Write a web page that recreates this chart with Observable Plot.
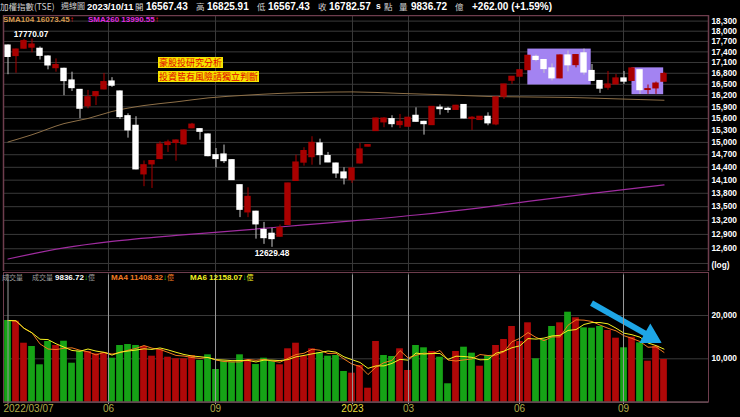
<!DOCTYPE html>
<html><head><meta charset="utf-8">
<script src="https://cdn.jsdelivr.net/npm/d3@7"></script>
<script src="https://cdn.jsdelivr.net/npm/@observablehq/plot@0.6"></script>
<style>
html,body{margin:0;padding:0;background:#000;}
#wrap{position:relative;width:740px;height:417px;overflow:hidden;background:#000;}
.t{position:absolute;white-space:nowrap;line-height:1;}
.n{font-family:"Liberation Sans",Arial,sans-serif;font-weight:bold;color:#fff;}
.c{font-family:"Noto Sans CJK TC",sans-serif;color:#d0d0d0;}
#price,#vol{position:absolute;left:0;}
#price{top:15px;} #vol{top:272px;}
.note{position:absolute;background:#f4e400;color:#e00000;font-family:"Noto Sans CJK TC",sans-serif;font-size:9px;line-height:11px;height:11px;padding:0 1px;white-space:nowrap;overflow:hidden;}
</style></head><body><div id="wrap">
<div id="price"></div><div id="vol"></div>

<span class="t c" style="left:0;top:2px;font-size:8.5px">加權指數(TSE)</span>
<span class="t c" style="left:61px;top:2px;font-size:8px">週線圖</span>
<span class="t n" style="left:87px;top:2px;font-size:9.4px">2023/10/11</span>
<span class="t c" style="left:135px;top:2px;font-size:8.5px">開</span>
<span class="t n" style="left:146px;top:2px;font-size:10px">16567.43</span>
<span class="t c" style="left:196px;top:2px;font-size:8.5px">高</span>
<span class="t n" style="left:207px;top:2px;font-size:10px">16825.91</span>
<span class="t c" style="left:257px;top:2px;font-size:8.5px">低</span>
<span class="t n" style="left:268px;top:2px;font-size:10px">16567.43</span>
<span class="t c" style="left:318px;top:2px;font-size:8.5px">收</span>
<span class="t n" style="left:329px;top:2px;font-size:10px">16782.57</span>
<span class="t n" style="left:376px;top:2px;font-size:8.5px">s</span>
<span class="t c" style="left:384px;top:2px;font-size:8.5px">點</span>
<span class="t c" style="left:399px;top:2px;font-size:8.5px">量</span>
<span class="t n" style="left:411px;top:2px;font-size:10px">9836.72</span>
<span class="t c" style="left:455px;top:2px;font-size:8.5px">億</span>
<span class="t n" style="left:472px;top:2px;font-size:10px">+262.00 (+1.59%)</span>

<span class="t n" style="left:3px;top:16px;font-size:8px;color:#d79a4e">SMA104 16073.45<span style="color:#f01010">↑</span></span>
<span class="t n" style="left:88px;top:16px;font-size:8px;color:#e02ce0">SMA260 13990.55<span style="color:#f01010">↑</span></span>

<span class="t c" style="left:2px;top:274px;font-size:7px;color:#9a9a9a">成交量</span>
<span class="t c" style="left:32px;top:274px;font-size:7px;color:#9a9a9a">成交量</span>
<span class="t n" style="left:55px;top:274px;font-size:8px">9836.72<span style="color:#20d020">↓</span><span class="c" style="font-weight:normal;color:#9a9a9a;font-size:7px">億</span></span>
<span class="t n" style="left:111px;top:274px;font-size:8px;color:#f07a20">MA4 11408.32<span style="color:#20d020">↓</span><span class="c" style="font-weight:normal;color:#f07a20;font-size:7px">億</span></span>
<span class="t n" style="left:190px;top:274px;font-size:8px;color:#f0f020">MA6 12158.07<span style="color:#20d020">↓</span><span class="c" style="font-weight:normal;color:#f0f020;font-size:7px">億</span></span>

<div class="note" style="left:158px;top:57px">豪股投研究分析</div>
<div class="note" style="left:158px;top:70.5px">投資皆有風險請獨立判斷</div>
</div>
<script>
// ---- weekly candles (index 0 = 2022/03/07 ... 82 = 2023/10/09) ----
const openP = [17583,17280,17490,17520,17490,17269,16940,16925,16604,16350,15915,16180,16360,16577,16307,15660,15415,14233,14468,14595,14935,14985,14950,15350,15330,15197,14690,14707,14570,13985,13373,13390,12995,12915,12850,13100,14080,14510,14640,14975,14670,14490,14280,14100,14490,14895,15280,15500,15585,15430,15390,15670,15515,15430,15880,15850,15820,15950,15585,15560,15645,15448,16165,16595,16705,16885,17260,17170,16935,16660,17300,17025,17360,16865,16590,16405,16495,16660,16590,16885,16345,16388,16567.43];
const highP = [17600,17480,17757,17770.07,17540,17290,17200,16940,16830,16360,16334,16300,16795,16680,16320,15720,15645,14550,14560,15015,15055,15060,15310,15475,15340,15210,14850,14935,14580,13990,13925,13400,13156,13028,13100,14030,14690,14870,15140,15080,14755,14500,14390,14380,14975,14940,15610,15620,15670,15703,15630,15875,15530,15910,15950,15890,15940,15960,15645,15650,15745,16160,16500,16710,16890,17300,17310,17180,17060,17310,17425,17320,17480,17044,16600,16850,16768,16850,16960,16900,16480,16560,16825.91];
const lowP = [16760,16800,17480,17375,17170,16895,16830,16195,16307,15595,15850,15935,16350,16415,15575,15105,14340,13950,13910,14590,14755,14545,14940,15340,15055,14650,14390,14490,14095,13260,13260,12800,12691,12629.48,12840,13090,14070,14428,14450,14450,14510,14140,13990,14024,14480,14890,15270,15365,15365,15347,15380,15505,15180,15420,15686,15735,15810,15590,15297,15550,15415,15415,16095,16495,16700,16880,17120,16795,16590,16650,16840,16950,16750,16580,16255,16340,16490,16495,16580,16228,16228,16228,16567.43];
const closeP = [17255,17468,17710,17612,17285,17016,17030,16585,16395,15850,16155,16290,16560,16460,15635,15297,14350,14450,14550,14950,15000,15048,15297,15445,15262,14665,14595,14545,14100,13430,13720,13113,12820,12800,13040,14024,14515,14790,14990,14690,14515,14255,14140,14373,14830,14935,15600,15600,15455,15515,15620,15515,15455,15900,15840,15820,15930,15600,15620,15645,15475,16150,16495,16705,16885,17290,17170,16915,16660,17300,17020,17310,16820,16590,16380,16495,16660,16570,16935,16340,16370,16520,16782.57];
// weekly turnover (億) and its colour: 1 = up week (red), 0 = down week (green)
const volume = [18850,18690,13600,12840,8610,14000,13070,14060,8980,11760,11690,11150,11380,10140,13070,13300,13070,12840,10600,12150,10370,10000,10000,10760,9610,10920,7530,9450,9220,10920,9770,8680,10140,9380,8610,12310,13600,10600,12310,11380,10600,10760,7070,6680,8450,3210,14000,10760,10530,12310,7300,13070,12540,11690,10370,4230,11690,12680,11300,8290,10760,13070,14460,17460,14000,18310,10000,14460,17460,18310,20760,19470,17150,17070,17460,16540,14760,12540,14990,13690,9450,12910,9836.72];
const volUp = [0,1,1,0,0,0,1,0,0,0,1,1,1,0,0,0,0,1,1,1,1,1,1,1,0,0,0,0,0,0,1,0,0,0,1,1,1,1,1,0,0,0,0,1,1,1,1,0,0,1,1,0,0,1,0,0,1,0,0,1,0,1,1,1,1,1,0,0,0,1,0,1,0,0,0,1,1,0,1,0,1,1,1];
// long moving averages on price, read at selected weeks
const sma104Week = [0,3,7,10,13,17,21,25,30,34,38,43,49,55,60,65,70,76,82];
const sma104Val = [15010,15190,15470,15600,15780,15935,16030,16135,16210,16255,16280,16295,16255,16215,16175,16160,16148,16110,16073.45];
const sma260Week = [0,7,13,21,29,37,43,51,59,65,73,82];
const sma260Val = [12390,12618,12753,12879,12985,13102,13188,13317,13475,13617,13796,13990.55];
// axis ticks
const priceTicks = d3.range(12600, 18301, 300);
const priceGrid = d3.range(12300, 18301, 300);
const volTicks = [10000, 20000];
const monthPos = [12.56, 25.94, 43.06, 50.06, 63.94, 76.94];
const monthLab = ["06", "09", "2023", "03", "06", "09"];
const firstLab = "2022/03/07";
// highlighted ranges (week range, price range)
const boxes = [
  {w1: 64.98, w2: 72.9, lo: 16480, hi: 17480},
  {w1: 78.0, w2: 81.96, lo: 16220, hi: 16950}
];
const arrow = {w1: 72.94, v1: 22840, w2: 80.3, v2: 15150};

const RED = "#a80000", VRED = "#b00808", VGREEN = "#16a316", GRID = "#3a3a3a", BORDER = "#6e3d4d";
const candles = openP.map((o, i) => ({i, o, h: highP[i], l: lowP[i], c: closeP[i], up: closeP[i] >= o}));
const vols = volume.map((v, i) => ({i, v, up: volUp[i] === 1}));
const s104 = sma104Week.map((w, k) => ({w, v: sma104Val[k]}));
const s260 = sma260Week.map((w, k) => ({w, v: sma260Val[k]}));
const xDomain = [-0.5625, 87.5625];
const numFont = "Liberation Sans, Arial, sans-serif";

const price = Plot.plot({
  width: 740, height: 256, marginTop: 0, marginBottom: 0, marginLeft: 3, marginRight: 32,
  style: {background: "transparent", color: "#fff"},
  x: {type: "linear", domain: xDomain, axis: null},
  y: {type: "log", domain: [12139, 18469], axis: null},
  marks: [
    Plot.gridY(priceGrid, {stroke: GRID, strokeOpacity: 1}),
    Plot.gridX(monthPos, {stroke: GRID, strokeOpacity: 1}),
    Plot.rect(boxes, {x1: "w1", x2: "w2", y1: "lo", y2: "hi", fill: "#a383f2"}),
    Plot.line(s104, {x: "w", y: "v", stroke: "#8e7048", strokeWidth: 1, curve: "monotone-x"}),
    Plot.line(s260, {x: "w", y: "v", stroke: "#a02ca0", strokeWidth: 1.2, curve: "monotone-x"}),
    Plot.ruleX(candles, {x: "i", y1: "l", y2: "h", stroke: d => d.up ? RED : "#c8c8c8", strokeWidth: 1}),
    Plot.rect(candles, {x1: d => d.i - 0.4, x2: d => d.i + 0.4, y1: "o", y2: "c", insetTop: -0.5, insetBottom: -0.5,
      fill: d => d.up ? RED : "#ffffff"}),
    Plot.text(priceTicks, {y: d => d, frameAnchor: "right", dx: 3, textAnchor: "start", fill: "#fff",
      fontWeight: "bold", fontSize: 8.3, fontFamily: numFont}),
    Plot.text(["(log)"], {frameAnchor: "bottom-right", dx: 3, dy: -4, textAnchor: "start", fill: "#fff",
      fontWeight: "bold", fontSize: 8.3, fontFamily: numFont}),
    Plot.text([candles[3]], {x: "i", y: "h", text: d => d.h.toFixed(2), dy: -5, dx: -1, fill: "#fff",
      fontWeight: "bold", fontSize: 8.3, fontFamily: numFont}),
    Plot.text([candles[33]], {x: "i", y: "l", text: d => d.l.toFixed(2), dy: 6, dx: 0, fill: "#fff",
      fontWeight: "bold", fontSize: 8.3, fontFamily: numFont}),
    Plot.frame({stroke: BORDER, strokeWidth: 1.5})
  ]
});
document.getElementById("price").appendChild(price);

const vol = Plot.plot({
  width: 740, height: 145, marginTop: 0, marginBottom: 15.4, marginLeft: 3, marginRight: 32,
  style: {background: "transparent", color: "#fff"},
  x: {type: "linear", domain: xDomain, axis: null},
  y: {domain: [0, 29930], axis: null},
  marks: [
    Plot.gridY(volTicks, {stroke: GRID, strokeOpacity: 1}),
    Plot.gridX(monthPos, {stroke: GRID, strokeOpacity: 1}),
    Plot.rectY(vols, {x1: d => d.i - 0.42, x2: d => d.i + 0.42, y: "v", fill: d => d.up ? VRED : VGREEN}),
    Plot.lineY(vols, Plot.windowY({k: 4, anchor: "end"}, {x: "i", y: "v", stroke: "#f07a20", strokeWidth: 1})),
    Plot.lineY(vols, Plot.windowY({k: 6, anchor: "end"}, {x: "i", y: "v", stroke: "#f4f020", strokeWidth: 1})),
    Plot.link([arrow], {x1: "w1", y1: "v1", x2: "w2", y2: "v2", stroke: "#1ea6e6", strokeWidth: 6}),
    Plot.dot([arrow], {x: "w2", y: "v2", symbol: "triangle", r: 7, rotate: 119.6, fill: "#1ea6e6", stroke: "#1ea6e6", strokeWidth: 2}),
    Plot.text(volTicks, {y: d => d, frameAnchor: "right", dx: 3, textAnchor: "start", fill: "#fff",
      fontWeight: "bold", fontSize: 8.3, fontFamily: numFont}),
    Plot.ruleY([0], {stroke: "#8a8a8a"}),
    Plot.tickX([0, ...monthPos], {x: d => d, frameAnchor: "bottom", stroke: "#9a9a9a", dy: 2.5, insetTop: 0}),
    Plot.text([0], {x: d => d, frameAnchor: "bottom", dy: 10, dx: -4.5, text: () => firstLab, textAnchor: "start",
      fill: "#b2ac48", fontSize: 10, fontFamily: numFont}),
    Plot.text(monthPos, {x: d => d, frameAnchor: "bottom", dy: 10, text: (d, k) => monthLab[k],
      fill: (d, k) => monthLab[k] === "2023" ? "#e6dc3c" : "#b2ac48",
      fontWeight: (d, k) => monthLab[k] === "2023" ? "bold" : "normal", fontSize: 10, fontFamily: numFont}),
    Plot.frame({stroke: BORDER, strokeWidth: 1})
  ]
});
document.getElementById("vol").appendChild(vol);
</script>
</body></html>
